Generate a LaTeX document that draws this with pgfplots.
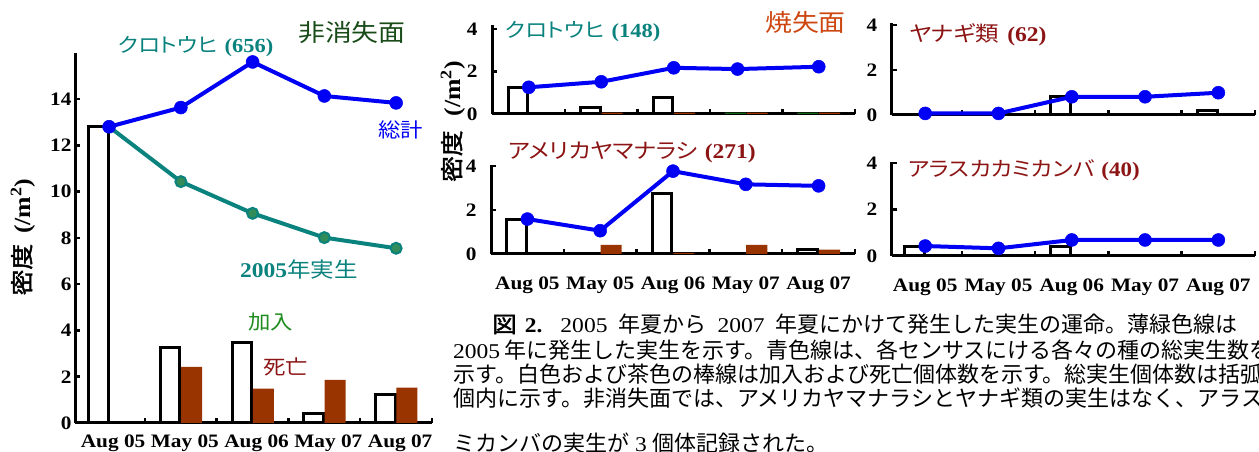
\documentclass[border=0pt]{standalone}
\usepackage{pgfplots}
\pgfplotsset{compat=1.18}
\usepackage{fontspec}
\setmainfont{Liberation Serif}[FakeStretch=1.12]
\newfontfamily\jp{Noto Sans CJK JP}[FakeStretch=1.12,RawFeature=+palt]
\newfontfamily\jpk{Noto Sans CJK JP}[FakeStretch=1.12]
\newfontfamily\jpc{Noto Sans CJK JP}
\newfontfamily\jpb{Noto Sans CJK JP}[FakeStretch=1.12,FakeBold=2]
\newcommand\fs[1]{\fontsize{#1}{#1}\selectfont}

\definecolor{tealc}{RGB}{10,130,125}
\definecolor{tealfill}{RGB}{50,140,90}
\definecolor{brownbar}{RGB}{153,51,0}
\definecolor{dkgreen}{RGB}{25,75,25}
\definecolor{addgreen}{RGB}{30,140,30}
\definecolor{dkred}{RGB}{140,20,20}
\definecolor{burnt}{RGB}{205,70,15}
\definecolor{zerogreen}{RGB}{20,100,20}
\definecolor{bluec}{RGB}{0,0,245}

\pgfplotsset{
  panel/.style={
    scale only axis, clip=false,
    axis x line=bottom, axis y line=left,
    axis line style={line width=3pt,-},
    ymin=0,
    tick align=inside, tick style={black,line width=2.5pt},
    major tick length=5pt,
    xtick={0.5,1.5,2.5,3.5,4.5}, xticklabels={},
    extra x ticks={0,1,2,3,4}, extra x tick labels={},
    extra x tick style={major tick length=0pt},
    /pgf/number format/assume math mode=true,
    tick label style={font=\bfseries\fs{19}},
  },
  catlabels/.style={extra x tick labels={Aug 05,May 05,Aug 06,May 07,Aug 07}},
  addbar/.style={ybar,bar width=0.27,bar shift=-0.15,fill=white,draw=black,line width=3pt},
  deadbar/.style={ybar,bar width=0.29,bar shift=0.15,fill=brownbar,draw=none},
  zerobar/.style={ybar,bar width=0.29,bar shift=#1,draw=none},
  tot/.style={color=bluec,line width=4pt,mark=*,mark size=6.5pt,
    mark options={solid,fill=bluec,draw=bluec,line width=0.5pt}},
}

\begin{document}
\begin{tikzpicture}[x=1pt,y=1pt]

% non-burned site: black spruce
\begin{axis}[panel,catlabels,at={(75pt,29pt)},anchor=south west,
  width=357pt,height=370.3pt,xmin=-0.475,xmax=4.5,ymax=16,
  ytick={0,2,...,14},
  extra x tick style={major tick length=0pt,
    xticklabel style={xshift=4pt,yshift=-8pt}}]
\addplot[addbar] coordinates {(0,12.83)(1,3.27)(2,3.47)(3,0.42)(4,1.25)};
\addplot[deadbar] coordinates {(1,2.42)(2,1.48)(3,1.86)(4,1.53)};
\addplot[color=tealc,line width=4pt,mark=*,mark size=5.5pt,
  mark options={fill=tealfill,draw=tealc,line width=2pt}]
  coordinates {(0,12.8)(1,10.43)(2,9.06)(3,8.01)(4,7.55)};
\addplot[tot] coordinates {(0,12.8)(1,13.63)(2,15.6)(3,14.13)(4,13.83)};
\end{axis}

% burned site: black spruce
\begin{axis}[panel,at={(492pt,338pt)},anchor=south west,
  width=363pt,height=89pt,xmin=-0.507,xmax=4.5,ymax=4.2,
  ytick={0,2,4},yticklabel style={xshift=-11pt}]
\addplot[addbar] coordinates {(0,1.26)(1,0.32)(2,0.77)};
\addplot[zerobar=-0.15,fill=zerogreen] coordinates {(3,0.06)(4,0.06)};
\addplot[zerobar=0.15,fill=brownbar] coordinates {(1,0.06)(2,0.06)(3,0.06)(4,0.06)};
\addplot[tot] coordinates {(0,1.26)(1,1.52)(2,2.18)(2.88,2.12)(4,2.23)};
\end{axis}

% burned site: aspen
\begin{axis}[panel,catlabels,at={(491pt,198pt)},anchor=south west,
  width=364pt,height=89pt,xmin=-0.5,xmax=4.5,ymax=4.05,
  ytick={0,2,4},yticklabel style={xshift=-11pt},
  extra x tick style={major tick length=0pt,xticklabel style={yshift=-19pt}}]
\addplot[addbar] coordinates {(0,1.55)(2,2.76)(4,0.2)};
\addplot[deadbar] coordinates {(1,0.41)(2,0.05)(3,0.41)(4,0.2)};
\addplot[tot] coordinates {(0,1.59)(1,1.06)(2,3.77)(3,3.17)(4,3.1)};
\end{axis}

% burned site: willow
\begin{axis}[panel,at={(891.7pt,337pt)},anchor=south west,
  width=363.3pt,height=92pt,xmin=-0.457,xmax=4.5,ymax=4.09,
  ytick={0,2,4},yticklabel style={xshift=-11pt}]
\addplot[addbar] coordinates {(2,0.81)(4,0.22)};
\addplot[tot] coordinates {(0,0.07)(1,0.07)(2,0.81)(3,0.81)(4,0.99)};
\end{axis}

% burned site: Alaska birch
\begin{axis}[panel,catlabels,at={(891.7pt,196pt)},anchor=south west,
  width=363.3pt,height=94pt,xmin=-0.457,xmax=4.5,ymax=4.05,
  ytick={0,2,4},yticklabel style={xshift=-11pt},
  extra x tick style={major tick length=0pt,xticklabel style={yshift=-19pt}}]
\addplot[addbar] coordinates {(0,0.4)(2,0.43)};
\addplot[tot] coordinates {(0,0.43)(1,0.33)(2,0.69)(3,0.69)(4,0.69)};
\end{axis}

% labels, left panel
\node[anchor=west,text=tealc,inner sep=0] at (118,405) {{\jp\fs{20}クロトウヒ}\hspace{7pt}{\bfseries\fs{20}(656)}};
\node[anchor=west,text=dkgreen,inner sep=0] at (298,419) {\jpk\fs{24}非消失面};
\node[anchor=west,text=bluec,inner sep=0] at (378,322) {\jpk\fs{20}総計};
\node[anchor=west,text=tealc,inner sep=0] at (240,182) {{\bfseries\fs{21}2005}{\jpk\fs{21}年実生}};
\node[anchor=west,text=addgreen,inner sep=0] at (248,130) {\jpk\fs{20}加入};
\node[anchor=west,text=dkred,inner sep=0] at (263,85) {\jpk\fs{20}死亡};
\node[rotate=90,inner sep=0] at (23,215) {{\jpb\fs{23}密度}\hspace{10pt}{\bfseries\fs{23}(/m\textsuperscript{2})}};

% labels, right panels
\node[rotate=90,inner sep=0] at (453,330.5) {{\jpb\fs{23}密度}\hspace{14pt}{\bfseries\fs{23}(/m\textsuperscript{2})}};
\node[anchor=west,text=burnt,inner sep=0] at (765,430) {\jpk\fs{24}焼失面};
\node[anchor=west,text=tealc,inner sep=0] at (505,420) {{\jp\fs{20}クロトウヒ}\hspace{7pt}{\bfseries\fs{20}(148)}};
\node[anchor=west,text=dkred,inner sep=0] at (508,300) {{\jp\fs{21}アメリカヤマナラシ}\hspace{7pt}{\bfseries\fs{21}(271)}};
\node[anchor=west,text=dkred,inner sep=0] at (909,417) {{\jp\fs{21}ヤナギ類}\hspace{8pt}{\bfseries\fs{21}(62)}};
\node[anchor=west,text=dkred,inner sep=0] at (908,282) {{\jp\fs{20.5}アラスカカミカンバ}\hspace{7pt}{\bfseries\fs{20.5}(40)}};

% caption
\node[anchor=west,inner sep=0] at (492,128) {{\jpb\fs{22}図}\hspace{8pt}{\bfseries\fs{21}2.}\hspace{18pt}{\fs{21}2005}\hspace{11pt}{\jpc\fs{22}年夏から}\hspace{11pt}{\fs{21}2007}\hspace{11pt}{\jpc\fs{22}年夏にかけて発生した実生の運命。薄緑色線は}};
\node[anchor=west,inner sep=0] at (453,102) {{\fs{21}2005}\hspace{4pt}{\jpc\fs{22}年に発生した実生を示す。青色線は、各センサスにける各々の種の総実生数を}};
\node[anchor=west,inner sep=0] at (453,78) {\jpc\fs{22}示す。白色および茶色の棒線は加入および死亡個体数を示す。総実生個体数は括弧};
\node[anchor=west,inner sep=0] at (453,54) {\jpc\fs{22}個内に示す。非消失面では、アメリカヤマナラシとヤナギ類の実生はなく、アラスカカ};
\node[anchor=west,inner sep=0] at (453,9) {{\jpc\fs{22}ミカンバの実生が}\hspace{6pt}{\fs{21}3}\hspace{6pt}{\jpc\fs{22}個体記録された。}};

\pgfresetboundingbox
\path[use as bounding box] (0,0) rectangle (1259,452);
\end{tikzpicture}
\end{document}
